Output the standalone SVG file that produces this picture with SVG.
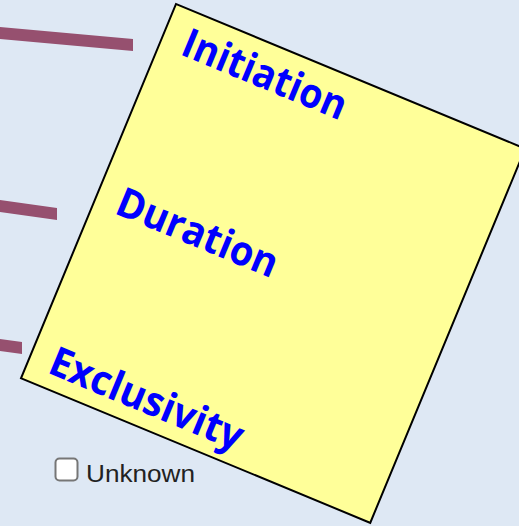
<svg xmlns="http://www.w3.org/2000/svg" width="519" height="526" viewBox="0 0 519 526">
  <style>
    .bg { fill: #dee8f4; }
    .card { fill: #ffff99; stroke: #000000; stroke-width: 2; }
    .lbl { font-family: "Open Sans", "Liberation Sans", sans-serif; font-weight: bold; font-size: 41px; fill: #0000ff; }
    .stub { fill: #96506f; }
    .cb { fill: #ffffff; stroke: #767676; stroke-width: 2; }
    .cbl { font-family: "Liberation Sans", "Open Sans", sans-serif; font-size: 23px; fill: #222222; }
  </style>
  <rect class="bg" x="0" y="0" width="519" height="526"/>
  <g id="connectors">
    <polygon class="stub" points="0,27 133,39 133,51 0,39"/>
    <polygon class="stub" points="0,200 57,208 57,220 0,212"/>
    <polygon class="stub" points="0,339 22,342 22,354 0,351"/>
  </g>
  <g id="card" transform="translate(176,4) rotate(22.5)">
    <rect class="card" x="0" y="0" width="378" height="405"/>
    <text class="lbl" x="22" y="45" textLength="174" lengthAdjust="spacingAndGlyphs">Initiation</text>
    <text class="lbl" x="22" y="217" textLength="171" lengthAdjust="spacingAndGlyphs">Duration</text>
    <text class="lbl" x="21" y="390" textLength="206" lengthAdjust="spacingAndGlyphs">Exclusivity</text>
  </g>
  <g id="unknown">
    <rect class="cb" x="55.5" y="458.5" width="22" height="22" rx="4"/>
    <text class="cbl" x="86" y="482" textLength="109" lengthAdjust="spacingAndGlyphs">Unknown</text>
  </g>
</svg>
